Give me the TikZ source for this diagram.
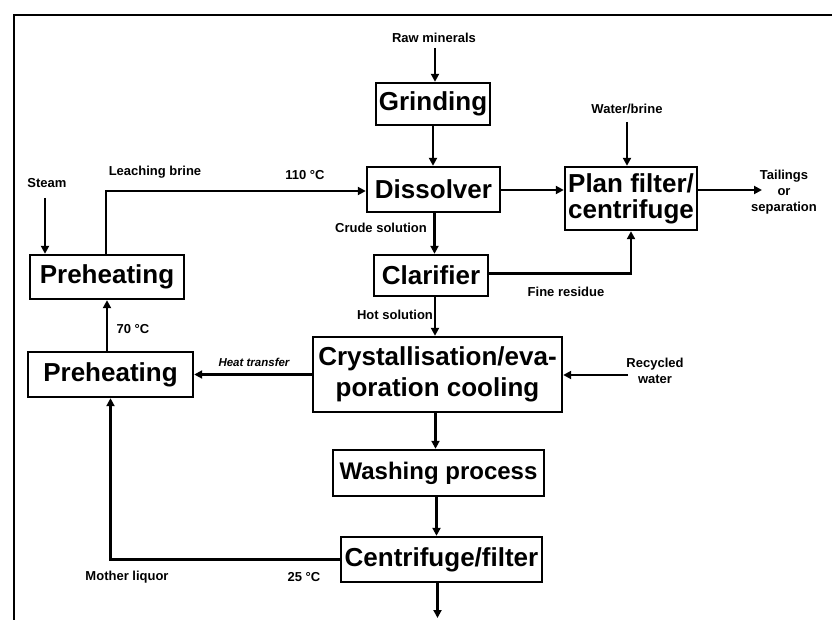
\documentclass[tikz,border=0pt]{standalone}
\usepackage{fontspec}
\setmainfont{Liberation Sans}
\usetikzlibrary{arrows.meta}
\begin{document}
\begin{tikzpicture}[x=1pt,y=-1pt,
  flow/.style={line width=2.8pt,-{Triangle[length=8pt,width=8pt]}},
  box/.style={draw,line width=2.4pt,inner sep=0pt,align=center,
    font=\fontsize{26}{27}\selectfont\bfseries},
  lbl/.style={inner sep=0pt,align=center,
    font=\fontsize{13}{16}\selectfont\bfseries}]
\useasboundingbox (0,0) rectangle (832,620);
% outer frame
\draw[line width=1.6pt] (14,620) -- (14,15) -- (832,15);

% process units
\node[box,minimum width=114pt,minimum height=42pt] (grind) at (433,104) {Grinding};
\node[box,minimum width=133pt,minimum height=45pt] (diss) at (433.5,189.5) {Dissolver};
\node[box,minimum width=132pt,minimum height=63pt] (plan) at (631,198.5) {Plan filter/\\[-1pt]centrifuge};
\node[box,minimum width=114pt,minimum height=41pt] (clar) at (431,275.5) {Clarifier};
\node[box,minimum width=154pt,minimum height=44pt] (pre1) at (107,277) {Preheating};
\node[box,minimum width=165pt,minimum height=45pt] (pre2) at (110.5,374.5) {Preheating};
\node[box,minimum width=249pt,minimum height=75pt] (cryst) at (437.5,374.5) {Crystallisation/eva-\\[4pt]poration cooling};
\node[box,minimum width=211pt,minimum height=46pt,font=\fontsize{24}{26}\selectfont\bfseries] (wash) at (438.5,473) {Washing process};
\node[box,minimum width=201pt,minimum height=45pt] (cent) at (441.5,559.5) {Centrifuge/filter};

% free ends of the feed and product streams
\coordinate (raw) at (435,48);
\coordinate (steam) at (45,198);
\coordinate (wb) at (627,122);
\coordinate (tail) at (762,190);
\coordinate (rw) at (628,375);
\coordinate (prod) at (437,618);

% streams
\draw[flow] (raw) -- (raw |- grind.north);
\draw[flow] (grind.south) -- (grind.south |- diss.north);
\draw[flow] ([xshift=1pt]diss.south) -- ([xshift=1pt]diss.south |- clar.north);
\draw[flow] ([xshift=4pt]clar.south) -- ([xshift=4pt]clar.south |- cryst.north);
\draw[flow] ([xshift=-2pt]cryst.south) -- ([xshift=-2pt]cryst.south |- wash.north);
\draw[flow] ([xshift=-2pt]wash.south) -- ([xshift=-2pt]wash.south |- cent.north);
\draw[flow] ([xshift=-4pt]cent.south) -- ([xshift=-4pt]cent.south |- prod);
\draw[flow] (diss.east |- 0,190) -- (plan.west |- 0,190);
\draw[flow] (wb) -- (wb |- plan.north);
\draw[flow] (plan.east |- tail) -- (tail);
\draw[flow] ([yshift=2pt]clar.east) -| (plan.south);
\draw[flow] (steam) -- (steam |- pre1.north);
\draw[flow] ([xshift=-1pt]pre1.north) |- ([yshift=-1.5pt]diss.west);
\draw[flow] (pre2.north -| pre1.south) -- (pre1.south);
\draw[flow] (cryst.west) -- (pre2.east);
\draw[flow] (rw) -- (rw -| cryst.east);
\draw[flow] (cent.west) -| (pre2.south);

% stream labels
\node[lbl] (lraw) at (434,38) {Raw minerals};
\node[lbl] (lwb) at (627,109) {Water/brine};
\node[lbl] (ltail) at (784,192) {Tailings\\or\\separation};
\node[lbl] (lsteam) at (47,183) {Steam};
\node[lbl] (lleach) at (155,172) {Leaching brine};
\node[lbl] (l110) at (305,175) {110 °C};
\node[lbl] (lcrude) at (381,228) {Crude solution};
\node[lbl] (lfine) at (566,292) {Fine residue};
\node[lbl] (lhot) at (395,315) {Hot solution};
\node[lbl] (l70) at (133,329) {70 °C};
\node[lbl,font=\fontsize{11.5}{13}\selectfont\bfseries\itshape] (lheat) at (254,362) {Heat transfer};
\node[lbl] (lrw) at (655,371) {Recycled\\water};
\node[lbl] (lmother) at (127,577) {Mother liquor};
\node[lbl] (l25) at (304,577) {25 °C};
\end{tikzpicture}
\end{document}
